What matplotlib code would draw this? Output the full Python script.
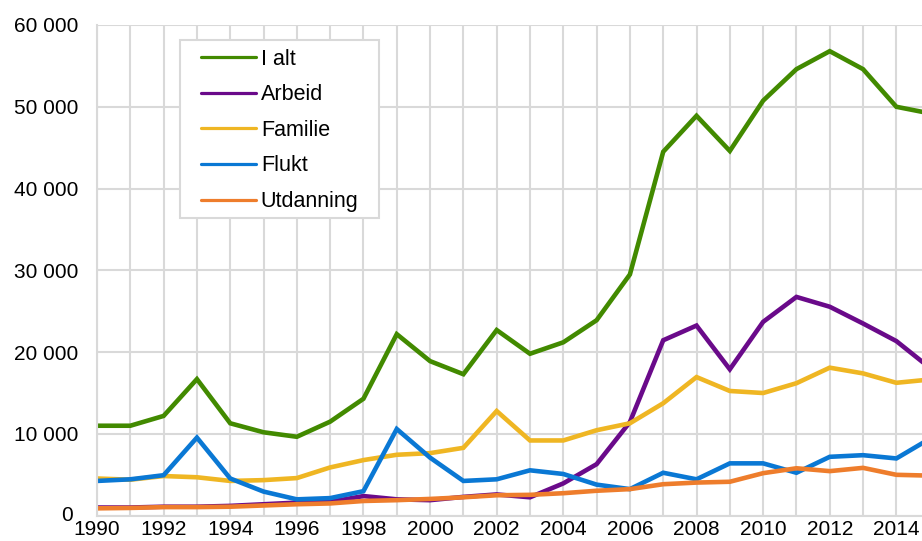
import matplotlib
matplotlib.use('Agg')
import matplotlib.pyplot as plt
import matplotlib.transforms as mtransforms
from matplotlib.patches import Rectangle
import numpy as np

plt.rcParams['font.family'] = ['Liberation Sans', 'DejaVu Sans']

years = list(range(1990, 2016))

i_alt = [11000, 11000, 12200, 16700, 11300, 10200, 9650, 11500, 14300, 22200,
         18900, 17300, 22700, 19800, 21200, 23900, 29500, 44500, 48900, 44600,
         50750, 54600, 56800, 54600, 50000, 49200]
arbeid = [1000, 1000, 1100, 1100, 1200, 1400, 1600, 1700, 2400, 2000,
          1900, 2300, 2600, 2250, 3950, 6300, 11450, 21450, 23250, 17900,
          23700, 26750, 25550, 23500, 21350, 18100]
familie = [4550, 4400, 4850, 4700, 4250, 4350, 4600, 5900, 6800, 7450,
           7650, 8300, 12800, 9200, 9200, 10450, 11300, 13750, 16950, 15250,
           15000, 16200, 18100, 17400, 16250, 16650]
flukt = [4250, 4450, 4950, 9550, 4550, 2950, 2000, 2150, 3000, 10600,
         7100, 4250, 4450, 5550, 5100, 3800, 3250, 5250, 4450, 6400,
         6400, 5250, 7200, 7400, 7000, 9400]
utdanning = [900, 950, 1050, 1050, 1100, 1250, 1400, 1500, 1800, 1900,
             2050, 2250, 2500, 2550, 2750, 3050, 3250, 3850, 4050, 4150,
             5200, 5800, 5450, 5850, 5000, 4900]

series = [('I alt', i_alt, '#428a00'),
          ('Arbeid', arbeid, '#6a0a8a'),
          ('Familie', familie, '#efb623'),
          ('Flukt', flukt, '#0a78d4'),
          ('Utdanning', utdanning, '#ee7d2c')]

fig = plt.figure(figsize=(9.22, 5.41), dpi=100)
ax = fig.add_axes([97 / 922, 1 - 515.7 / 541, 1 - 97 / 922, (515.7 - 25) / 541])

for name, vals, col in series:
    ax.plot(years, vals, color=col, lw=3.3, label=name,
            solid_joinstyle='miter', solid_capstyle='round')

ax.set_xlim(1990, 2014.77)
ax.set_ylim(0, 60000)
ax.set_xticks(range(1990, 2015), minor=True)
ax.set_xticks(range(1990, 2015, 2))
ax.set_yticks(range(0, 60001, 10000))
ax.set_yticklabels([f'{v:,}'.replace(',', ' ') for v in range(0, 60001, 10000)])

ax.grid(True, which='both', color='#d9d9d9', lw=1.5)
ax.set_axisbelow(True)
for s in ['top', 'right']:
    ax.spines[s].set_visible(False)
for s in ['left', 'bottom']:
    ax.spines[s].set_color('#d9d9d9')
    ax.spines[s].set_linewidth(1.5)
ax.tick_params(which='both', length=0, labelsize=15, colors='black')
ax.tick_params(axis='y', pad=13.5)
ax.tick_params(axis='x', pad=3)

# nudge the "0" label so it does not collide with "1990"
zero_lbl = ax.get_yticklabels()[0]
zero_lbl.set_transform(zero_lbl.get_transform() +
                       mtransforms.ScaledTranslation(-5 / 100, 2 / 100, fig.dpi_scale_trans))

# legend box
box = Rectangle((180 / 922, 1 - 218 / 541), 199 / 922, 178 / 541,
                transform=fig.transFigure, facecolor='white',
                edgecolor='#d9d9d9', lw=1.5, zorder=4)
ax.add_patch(box)

leg = ax.legend(loc='upper left', bbox_to_anchor=(0.126, 0.952), fontsize=15.5,
                handlelength=2.55, labelspacing=0.68, frameon=False,
                borderpad=0, handletextpad=0.23, borderaxespad=0)
leg.set_zorder(5)
for ln in leg.get_lines():
    ln.set_linewidth(2.3)
    ln.set_solid_capstyle('round')

plt.savefig('out.png', dpi=100)
